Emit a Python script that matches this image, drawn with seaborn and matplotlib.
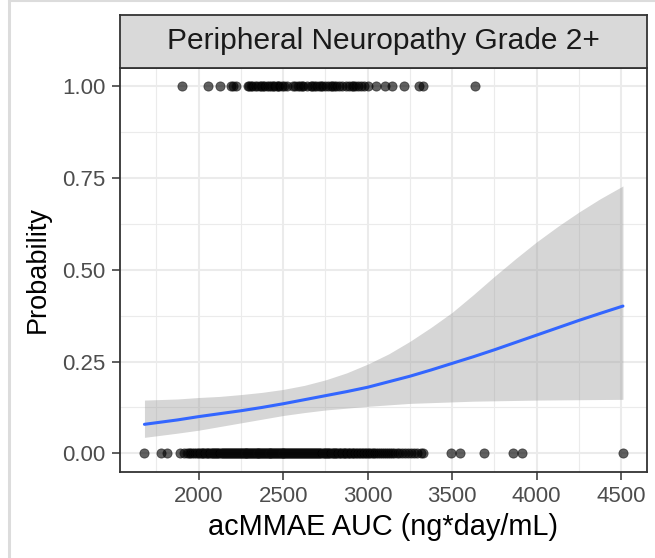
import matplotlib
matplotlib.use("Agg")
import matplotlib.pyplot as plt
from matplotlib.lines import Line2D
import seaborn as sns
import pandas as pd

# ---------------- data ----------------
# acMMAE AUC of patients without grade 2+ peripheral neuropathy (outcome 0)
auc_no_event = [
    1676, 1778, 1812, 1890,
    1915, 1928, 1940, 1951, 1963, 1972, 1984, 1995,
    2003, 2011, 2019, 2026, 2034, 2041, 2049, 2056, 2062, 2070, 2077, 2085, 2091, 2098,
    2104, 2110, 2117, 2123, 2129, 2136, 2142, 2148, 2155, 2161, 2167, 2174, 2180, 2186, 2193, 2199,
    2204, 2209, 2215, 2221, 2226, 2232, 2238, 2243, 2249, 2254, 2260, 2266, 2271, 2277, 2282, 2288, 2293, 2299,
    2304, 2310, 2315, 2321, 2326, 2331, 2337, 2342, 2348, 2353, 2359, 2364, 2370, 2375, 2380, 2386, 2391, 2397,
    2402, 2408, 2413, 2419, 2424, 2430, 2435, 2441, 2446, 2452, 2457, 2463, 2468, 2474, 2479, 2485, 2490, 2496,
    2501, 2507, 2512, 2518, 2523, 2529, 2534, 2540, 2546, 2551, 2557, 2562, 2568, 2574, 2579, 2585, 2591, 2597,
    2603, 2609, 2615, 2621, 2627, 2633, 2639, 2645, 2651, 2657, 2663, 2669, 2676, 2682, 2688, 2694, 2700,
    2707, 2713, 2720, 2726, 2733, 2739, 2746, 2752, 2759, 2766, 2772, 2779, 2786, 2793, 2800,
    2807, 2814, 2821, 2829, 2836, 2843, 2851, 2858, 2866, 2874, 2881, 2889, 2897, 2905,
    2913, 2921, 2930, 2938, 2947, 2955, 2964, 2973, 2982, 2991,
    3000, 3010, 3019, 3029, 3039, 3049, 3060, 3071, 3082, 3094, 3106, 3118, 3131, 3144,
    3158, 3172, 3187, 3203, 3219, 3236, 3254, 3273, 3293, 3314, 3330,
    3494, 3547, 3690, 3861, 3910, 4509,
]
# acMMAE AUC of patients with grade 2+ peripheral neuropathy (outcome 1)
auc_event = [
    1902, 2053, 2128, 2190, 2205, 2220, 2289, 2300, 2310, 2318, 2332, 2345, 2360, 2371,
    2380, 2388, 2402, 2415, 2430, 2440, 2447, 2462, 2470, 2478, 2490, 2505, 2520, 2558,
    2570, 2585, 2600, 2610, 2620, 2643, 2662, 2672, 2680, 2695, 2712, 2722, 2730, 2748,
    2766, 2780, 2790, 2800, 2815, 2832, 2850, 2870, 2888, 2905, 2915, 2925, 2945, 2960,
    2976, 3004, 3050, 3100, 3145, 3216, 3301, 3330, 3635,
]

# logistic fit and 95% band
fit_auc = [1679, 1875, 2000, 2125, 2250, 2375, 2500, 2625, 2750, 2875, 3000, 3125,
           3250, 3375, 3500, 3625, 3750, 3875, 4000, 4125, 4250, 4375, 4510]
fit_prob = [0.079, 0.091, 0.100, 0.108, 0.116, 0.125, 0.135, 0.146, 0.157, 0.168, 0.180, 0.195,
            0.210, 0.227, 0.245, 0.263, 0.282, 0.302, 0.322, 0.342, 0.362, 0.381, 0.401]
fit_low = [0.0435, 0.055, 0.063, 0.073, 0.083, 0.093, 0.103, 0.111, 0.118, 0.123, 0.128, 0.132,
           0.136, 0.138, 0.140, 0.142, 0.143, 0.144, 0.145, 0.1455, 0.146, 0.1465, 0.147]
fit_high = [0.145, 0.148, 0.152, 0.155, 0.160, 0.166, 0.174, 0.185, 0.200, 0.219, 0.243, 0.271,
            0.305, 0.343, 0.384, 0.432, 0.482, 0.530, 0.576, 0.618, 0.657, 0.693, 0.728]

x_ticks = [2000, 2500, 3000, 3500, 4000, 4500]
x_minor = [1750, 2250, 2750, 3250, 3750, 4250]
y_ticks = [0.00, 0.25, 0.50, 0.75, 1.00]
y_tick_labels = ["0.00", "0.25", "0.50", "0.75", "1.00"]
y_minor = [0.125, 0.375, 0.625, 0.875]

strip_title = "Peripheral Neuropathy Grade 2+"
x_title = "acMMAE AUC (ng*day/mL)"
y_title = "Probability"

# ---------------- plotting ----------------
sns.set_theme(style="white")
plt.rcParams['font.family'] = ['Liberation Sans', 'DejaVu Sans']

W, H = 655, 558
fig = plt.figure(figsize=(W / 100, H / 100), dpi=100)
fig.patch.set_facecolor("white")

p_left, p_right, p_top, p_bottom = 120, 646.7, 67.7, 471.7
ax = fig.add_axes([p_left / W, 1 - p_bottom / H, (p_right - p_left) / W, (p_bottom - p_top) / H])
ax.set_facecolor("white")

df = pd.DataFrame({
    "auc": auc_no_event + auc_event,
    "event": [0] * len(auc_no_event) + [1] * len(auc_event),
})
fit = pd.DataFrame({"auc": fit_auc, "prob": fit_prob, "low": fit_low, "high": fit_high})

sns.scatterplot(data=df, x="auc", y="event", ax=ax, color="black", alpha=0.62,
                s=44, edgecolor="#111111", linewidth=0.6, zorder=3, legend=False)
ax.fill_between(fit["auc"], fit["low"], fit["high"], color="#999999", alpha=0.4,
                linewidth=0, zorder=2)
sns.lineplot(data=fit, x="auc", y="prob", ax=ax, color="#3366FF", linewidth=2.2,
             zorder=4, legend=False)

xmin, xmax = min(df["auc"]), max(df["auc"])
pad = (xmax - xmin) * 0.05
ax.set_xlim(xmin - pad, xmax + pad)
ax.set_ylim(-0.05, 1.05)

ax.set_xticks(x_ticks)
ax.set_xticklabels([str(v) for v in x_ticks])
ax.set_xticks(x_minor, minor=True)
ax.set_yticks(y_ticks)
ax.set_yticklabels(y_tick_labels)
ax.set_yticks(y_minor, minor=True)

ax.grid(which="major", color="#EBEBEB", linewidth=1.5, zorder=0)
ax.grid(which="minor", color="#EBEBEB", linewidth=0.8, zorder=0)
ax.set_axisbelow(True)

ax.tick_params(which="major", length=5.5, width=1.1, color="#333333",
               labelsize=16, labelcolor="#4D4D4D", pad=5, bottom=True, left=True)
ax.tick_params(which="minor", length=0)
for s in ax.spines.values():
    s.set_color("#333333")
    s.set_linewidth(1.3)

ax.set_xlabel(x_title, fontsize=20.8, color="black", labelpad=4)
ax.set_ylabel(y_title, fontsize=19.5, color="black", labelpad=8)

# facet strip
strip = fig.add_axes([p_left / W, 1 - p_top / H, (p_right - p_left) / W, (p_top - 15) / H])
strip.set_facecolor("#D9D9D9")
strip.set_xticks([])
strip.set_yticks([])
for s in strip.spines.values():
    s.set_color("#333333")
    s.set_linewidth(1.3)
strip.text(0.5, 0.5, strip_title, ha="center", va="center", fontsize=21.5,
           color="#1A1A1A", transform=strip.transAxes)

# light frame of the original screenshot
fig.add_artist(Line2D([9 / W, 9 / W], [0, 1], color="#DCDCDC", linewidth=2.2,
                      transform=fig.transFigure))
fig.add_artist(Line2D([9 / W, 1], [1 - 1 / H, 1 - 1 / H], color="#DCDCDC", linewidth=1.5,
                      transform=fig.transFigure))

fig.savefig("out.png", dpi=100)
